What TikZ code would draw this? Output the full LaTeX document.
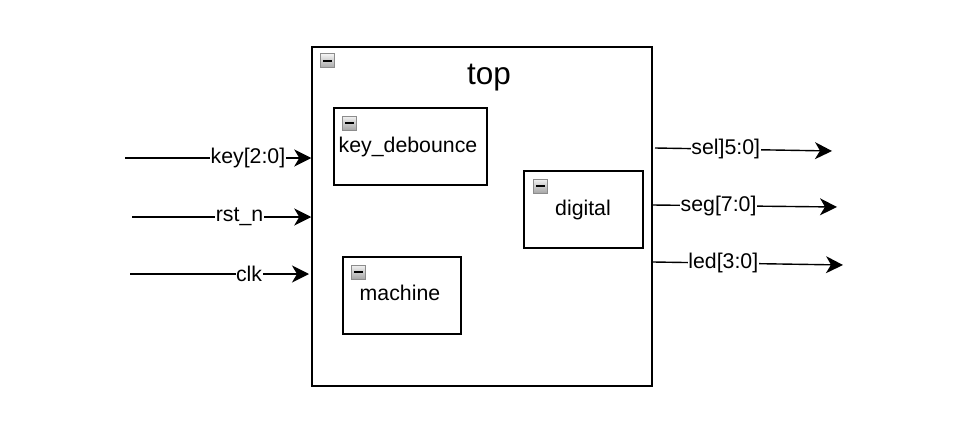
\documentclass[tikz,border=0pt]{standalone}
\usepackage{fontspec}
\setmainfont{Liberation Sans}
\usetikzlibrary{arrows.meta}
\begin{document}
\begin{tikzpicture}[x=1pt,y=-1pt,
  blk/.style={draw=black,line width=1.5pt,fill=white,inner sep=0pt},
  btn/.style={draw=black!45,line width=1pt,minimum size=14pt,inner sep=0pt,
    top color=black!5,bottom color=black!35,
    path picture={\fill[black] ([xshift=-4.5pt,yshift=-1.4pt]path picture bounding box.center) rectangle ([xshift=4.5pt,yshift=1.4pt]path picture bounding box.center);}},
  txt/.style={inner sep=0pt,font=\fontsize{21.3pt}{23pt}\selectfont},
  lbl/.style={fill=white,inner sep=0.5pt,font=\fontsize{21.3pt}{23pt}\selectfont},
  arr/.style={line width=1.4pt,-{Stealth[length=17pt,width=17pt,inset=5pt,scale=1]}}]
\useasboundingbox (0,0) rectangle (959,436);
% outer block
\node[blk,minimum width=340pt,minimum height=339pt] (top) at (482,216.5) {};
\node[btn] (btop) at (327,61) {};
\node[inner sep=0pt,font=\fontsize{31.5pt}{33pt}\selectfont] (ttop) at (489,78) {top};
% sub blocks
\node[blk,minimum width=153pt,minimum height=77pt] (kd) at (410.5,146.5) {};
\node[btn] (bkd) at (349,123) {};
\node[txt] (tkd) at (408,147) {key\_debounce};
\node[blk,minimum width=119pt,minimum height=77pt] (dg) at (583.5,209.5) {};
\node[btn] (bdg) at (540,186) {};
\node[txt] (tdg) at (583,210) {digital};
\node[blk,minimum width=118pt,minimum height=77pt] (mc) at (402,295.5) {};
\node[btn] (bmc) at (358,272) {};
\node[txt] (tmc) at (400,293) {machine};
% inputs
\coordinate (kin) at (125,158);
\coordinate (rin) at (132,217);
\coordinate (cin) at (130,274);
\coordinate (cend) at (309,274);
\draw[arr] (kin) -- (kin -| top.west) node[lbl,pos=0.66] (lkey) {key[2:0]};
\draw[arr] (rin) -- (rin -| top.west) node[lbl,pos=0.6] (lrst) {rst\_n};
\draw[arr] (cin) -- (cend) node[lbl,pos=0.665] (lclk) {clk};
% outputs
\coordinate (sS) at (655,148); \coordinate (sE) at (832,151);
\coordinate (gS) at (652,205); \coordinate (gE) at (837,207);
\coordinate (lS) at (653,262); \coordinate (lE) at (843,265);
\draw[arr] (sS) -- (sE) node[lbl,pos=0.4] (lsel) {sel]5:0]};
\draw[arr] (gS) -- (gE) node[lbl,pos=0.36] (lseg) {seg[7:0]};
\draw[arr] (lS) -- (lE) node[lbl,pos=0.37] (lled) {led[3:0]};
\end{tikzpicture}
\end{document}
